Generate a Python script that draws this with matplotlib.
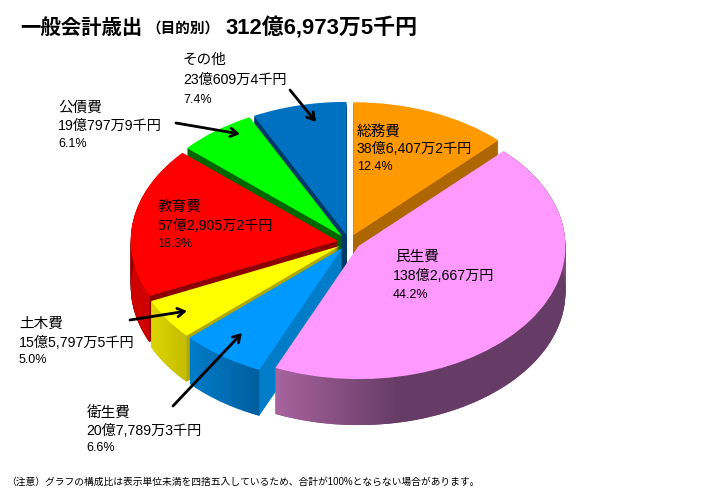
import numpy as np
import matplotlib
matplotlib.use('Agg')
import matplotlib.pyplot as plt
from matplotlib.colors import LinearSegmentedColormap
from matplotlib.patches import Polygon

plt.rcParams['font.family'] = ['Liberation Sans', 'Noto Sans CJK JP', 'DejaVu Sans']

# data, clockwise from 12 o'clock (oku yen)
names = ['総務費', '民生費', '衛生費', '土木費', '教育費', '公債費', 'その他']
amounts = ['38億6,407万2千円', '138億2,667万円', '20億7,789万3千円', '15億5,797万5千円',
           '57億2,905万2千円', '19億797万9千円', '23億609万4千円']
percents = ['12.4%', '44.2%', '6.6%', '5.0%', '18.3%', '6.1%', '7.4%']
values = [38.64072, 138.2667, 20.77893, 15.57975, 57.29052, 19.07979, 23.06094]

top_colors = ['#FF9900', '#FF99FF', '#0099FF', '#FFFF00', '#FF0000', '#00FF00', '#0070C0']
side_colors = ['#AE6600', '#7A4A7A', '#007CC8', '#B0A800', '#8C0000', '#006600', '#003A66']

# back to front
draw_rank = [0, 6, 5, 4, 3, 2, 1]

# outer rim shading: slice index -> colour stops
rim_stops = {
    1: [(0, '#A8649F'), (0.42, '#663C66'), (1, '#663C66')],
    2: [(0, '#007CC8'), (1, '#005F9F')],
    3: [(0, '#DDD600'), (1, '#C4BC00')],
    4: [(0, '#D00000'), (1, '#D00000')],
}

# layout in pixels
W, H = 709, 503
cx, cy = 349, 242
rx, ry = 207, 133
depth_px = 46
explode_frac = 0.055

# left x, y of the three lines of each label
label_pos = [
    ((357, 132), (357, 149), (357, 167)),
    ((395, 257), (393, 276), (393, 295)),
    ((87, 414), (86, 431), (86, 448)),
    ((19, 324), (19, 343), (19, 360)),
    ((158, 207), (157, 226), (157, 244)),
    ((58, 108), (58, 126), (58, 144)),
    ((183, 60), (183, 80), (183, 100)),
]
arrows = [
    ((290, 90), (316, 122)),
    ((176, 123), (240, 134)),
    ((130, 320), (187, 311)),
    ((173, 406), (242, 333)),
]

fig = plt.figure(figsize=(W / 100, H / 100), dpi=100)
ax = fig.add_axes([0, 0, 1, 1])

explode = [explode_frac] * len(values)
depth = depth_px / ry

# side walls: the same pie stacked downwards
for k in range(depth_px, 0, -1):
    walls, _ = ax.pie(values, explode=explode, colors=side_colors, startangle=90,
                      counterclock=False, center=(0, -depth * k / depth_px),
                      normalize=True, wedgeprops={'linewidth': 0})
    for i, w in enumerate(walls):
        w.set_zorder(draw_rank[i] * 10 + 1)

tops, _ = ax.pie(values, explode=explode, colors=top_colors, startangle=90,
                 counterclock=False, normalize=True, wedgeprops={'linewidth': 0})
for i, w in enumerate(tops):
    w.set_zorder(draw_rank[i] * 10 + 3)

# shaded outer rims
for i, stops in rim_stops.items():
    w = tops[i]
    t = np.radians(np.linspace(w.theta1, w.theta2, 200))
    x = w.center[0] + w.r * np.cos(t)
    y = w.center[1] + w.r * np.sin(t)
    pts = np.vstack([np.column_stack([x, y]), np.column_stack([x, y - depth])[::-1]])
    clip = Polygon(pts, transform=ax.transData, facecolor='none', edgecolor='none')
    ax.add_patch(clip)
    cmap = LinearSegmentedColormap.from_list('rim%d' % i, stops)
    im = ax.imshow(np.linspace(0, 1, 256)[None, :], cmap=cmap, aspect='auto',
                   extent=(x.min(), x.max(), y.min() - depth, y.max()),
                   zorder=draw_rank[i] * 10 + 2)
    im.set_clip_path(clip)

ax.set_xlim(-cx / rx, (W - cx) / rx)
ax.set_ylim((cy - H) / ry, cy / ry)
ax.set_aspect('auto')
ax.axis('off')

# overlay in pixel coordinates for the text and arrows
over = fig.add_axes([0, 0, 1, 1], facecolor='none')
over.set_xlim(0, W)
over.set_ylim(H, 0)
over.axis('off')

over.text(20, 28, '一般会計歳出', fontsize=14.7, fontweight='bold', va='center')
over.text(146, 29, '（目的別）', fontsize=10.5, fontweight='bold', va='center')
over.text(226, 28, '312億6,973万5千円', fontsize=15.8, fontweight='bold', va='center')

for i in range(len(names)):
    sizes = (10.5, 10.2, 9)
    lines = (names[i], amounts[i], percents[i])
    for (x, y), s, size in zip(label_pos[i], lines, sizes):
        over.text(x, y, s, fontsize=size, va='center', ha='left', color='black')

for start, end in arrows:
    over.annotate('', xy=end, xytext=start,
                  arrowprops=dict(arrowstyle='->,head_length=0.5,head_width=0.3',
                                  color='black', lw=2, shrinkA=0, shrinkB=0))

over.text(6, 482, '（注意）グラフの構成比は表示単位未満を四捨五入しているため、合計が100%とならない場合があります。',
          fontsize=7.05, va='center', ha='left')

fig.savefig('out.png', dpi=100)
